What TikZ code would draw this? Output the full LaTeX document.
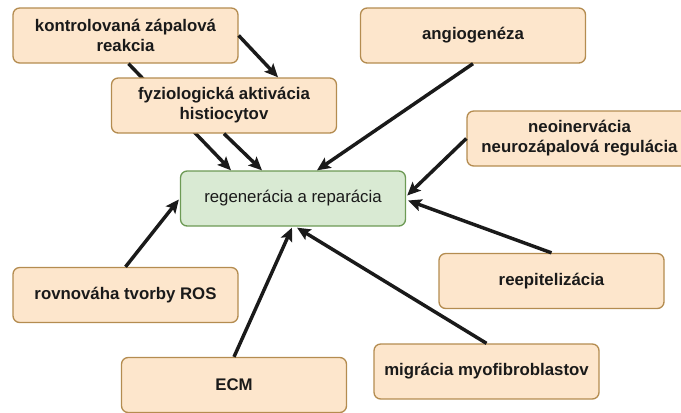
\documentclass[tikz,border=0pt]{standalone}
\usepackage{fontspec}
\setmainfont{Liberation Sans}
\usetikzlibrary{arrows.meta,calc}

\definecolor{boxfill}{HTML}{FDE6CC}
\definecolor{boxline}{HTML}{B48C50}
\definecolor{goalfill}{HTML}{D9EAD3}
\definecolor{goalline}{HTML}{6D9A55}
\definecolor{ink}{HTML}{1A1A1A}

\begin{document}
\begin{tikzpicture}[x=0.75pt, y=-0.75pt]
            \tikzset{
                box/.style={draw=boxline, fill=boxfill, line width=1pt, rounded corners=5pt,
                        minimum width=168.75pt, minimum height=41.25pt, align=center, text=ink,
                        font=\fontsize{12.6}{15}\selectfont\bfseries},
                goal/.style={box, draw=goalline, fill=goalfill, font=\fontsize{12.6}{15}\selectfont},
                arr/.style={-{Stealth[length=10pt,width=9pt,inset=2pt]}, line width=2.6pt, ink}
            }
            \clip (0,0) rectangle (681,412);

            % boxes
            \node[box] (kzr) at (125.5,35.5) {kontrolovaná zápalová\\reakcia};
            \node[box] (ang) at (473,35.5) {angiogenéza};
            \node[box] (neo) at (579.5,138.5) {neoinervácia\\neurozápalová regulácia};
            \node[goal] (reg) at (293,198.5) {regenerácia a reparácia};
            \node[box] (ros) at (125.5,295) {rovnováha tvorby ROS};
            \node[box] (reep) at (551.5,281) {reepitelizácia};
            \node[box] (ecm) at (234,385) {ECM};
            \node[box] (mig) at (486.5,371.5) {migrácia myofibroblastov};

            % this one runs behind the histiocyte box
            \draw[arr] ($(kzr.south)+(3,0)$) -- ($(reg.north)+(-62,0)$);
            \node[box] (fah) at (224,105.5) {fyziologická aktivácia\\histiocytov};

            % arrows into the goal
            \draw[arr] (kzr.east) -- ($(fah.north)+(54,0)$);
            \draw[arr] (fah.south) -- ($(reg.north)+(-31,0)$);
            \draw[arr] (ang.south) -- ($(reg.north)+(24,0)$);
            \draw[arr] (neo.west) -- ($(reg.east)+(1,-3)$);
            \draw[arr] (reep.north) -- ($(reg.east)+(2,2)$);
            \draw[arr] (mig.north) -- ($(reg.south)+(4,1)$);
            \draw[arr] (ecm.north) -- ($(reg.south)+(-1,1)$);
            \draw[arr] (ros.north) -- ($(reg.west)+(-1,1)$);

        \end{tikzpicture}
\end{document}
